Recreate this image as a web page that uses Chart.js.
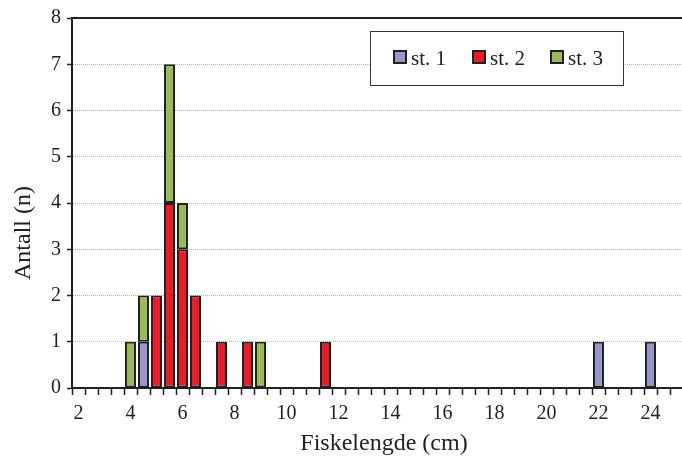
<!DOCTYPE html>
<html>
<head>
<meta charset="utf-8">
<script src="https://cdn.jsdelivr.net/npm/chart.js@4.4.0/dist/chart.umd.min.js"></script>
<style>
  html, body { margin: 0; padding: 0; background: #fff; overflow: hidden; }
  #wrap { width: 682px; height: 457px; overflow: hidden; }
</style>
</head>
<body>
<div id="wrap"><canvas id="lengthChart" width="690" height="457"></canvas></div>
<script>
// Fish length classes, 2 to 25 cm in 0.5 cm steps
const lengths = ['2', '2.5', '3', '3.5', '4', '4.5', '5', '5.5', '6', '6.5', '7', '7.5',
    '8', '8.5', '9', '9.5', '10', '10.5', '11', '11.5', '12', '12.5', '13', '13.5',
    '14', '14.5', '15', '15.5', '16', '16.5', '17', '17.5', '18', '18.5', '19', '19.5',
    '20', '20.5', '21', '21.5', '22', '22.5', '23', '23.5', '24', '24.5', '25'];

const st1 = [0, 0, 0, 0, 0, 1, 0, 0, 0, 0, 0, 0,
    0, 0, 0, 0, 0, 0, 0, 0, 0, 0, 0, 0,
    0, 0, 0, 0, 0, 0, 0, 0, 0, 0, 0, 0,
    0, 0, 0, 0, 1, 0, 0, 0, 1, 0, 0];
const st2 = [0, 0, 0, 0, 0, 0, 2, 4, 3, 2, 0, 1,
    0, 1, 0, 0, 0, 0, 0, 1, 0, 0, 0, 0,
    0, 0, 0, 0, 0, 0, 0, 0, 0, 0, 0, 0,
    0, 0, 0, 0, 0, 0, 0, 0, 0, 0, 0];
const st3 = [0, 0, 0, 0, 1, 1, 0, 3, 1, 0, 0, 0,
    0, 0, 1, 0, 0, 0, 0, 0, 0, 0, 0, 0,
    0, 0, 0, 0, 0, 0, 0, 0, 0, 0, 0, 0,
    0, 0, 0, 0, 0, 0, 0, 0, 0, 0, 0];

const yTicks = [0, 1, 2, 3, 4, 5, 6, 7, 8];
const xLabelEvery = 4;
const xTitle = 'Fiskelengde (cm)';
const yTitle = 'Antall (n)';

const serif = "'Liberation Serif', 'DejaVu Serif', serif";
const ink = '#222';

// Top frame line, axis titles (placed as in the original) and legend box
const framePlugin = {
    id: 'frame',
    afterDraw(chart) {
        const { ctx, chartArea } = chart;
        ctx.save();
        ctx.strokeStyle = ink;
        ctx.lineWidth = 2;
        ctx.beginPath();
        ctx.moveTo(chartArea.left - 1, chartArea.top);
        ctx.lineTo(chartArea.right + 10, chartArea.top);
        ctx.stroke();

        ctx.font = '24px ' + serif;
        ctx.fillStyle = ink;
        ctx.textAlign = 'center';
        ctx.textBaseline = 'middle';
        ctx.fillText(xTitle, 384, 444);

        ctx.save();
        ctx.translate(24, 233);
        ctx.rotate(-Math.PI / 2);
        ctx.fillText(yTitle, 0, 0);
        ctx.restore();

        // legend
        ctx.textAlign = 'left';
        ctx.fillStyle = '#fff';
        ctx.fillRect(370, 31, 253, 54);
        ctx.lineWidth = 1;
        ctx.strokeStyle = '#333';
        ctx.strokeRect(370.5, 31.5, 253, 54);
        const xs = [394, 473, 551];
        ctx.font = '21px ' + serif;
        ctx.textBaseline = 'alphabetic';
        chart.data.datasets.forEach((ds, i) => {
            ctx.fillStyle = ds.backgroundColor;
            ctx.fillRect(xs[i], 51, 12, 12);
            ctx.lineWidth = 2;
            ctx.strokeStyle = ink;
            ctx.strokeRect(xs[i], 51, 12, 12);
            ctx.fillStyle = ink;
            ctx.fillText(ds.label, xs[i] + 17, 65);
        });
        ctx.restore();
    }
};

const ctx = document.getElementById('lengthChart').getContext('2d');
new Chart(ctx, {
    type: 'bar',
    data: {
        labels: lengths,
        datasets: [
            { label: 'st. 1', data: st1, backgroundColor: '#9797CA' },
            { label: 'st. 2', data: st2, backgroundColor: '#ED1C24' },
            { label: 'st. 3', data: st3, backgroundColor: '#9BBB59' }
        ].map(ds => Object.assign(ds, {
            borderColor: ink,
            borderWidth: 2,
            borderSkipped: false,
            barPercentage: 0.85,
            categoryPercentage: 1
        }))
    },
    options: {
        responsive: false,
        animation: false,
        layout: { padding: { top: 8, left: 45, right: 7, bottom: 24 } },
        plugins: {
            legend: { display: false },
            tooltip: { enabled: false }
        },
        scales: {
            x: {
                stacked: true,
                offset: true,
                grid: {
                    offset: true,
                    drawOnChartArea: false,
                    drawTicks: true,
                    tickLength: 7,
                    tickColor: ink,
                    tickWidth: 1.5
                },
                border: { color: ink, width: 2 },
                ticks: {
                    autoSkip: false,
                    maxRotation: 0,
                    padding: 7,
                    color: ink,
                    font: { family: serif, size: 20 },
                    callback: (v, i) => (i % xLabelEvery === 0 ? lengths[i] : '')
                }
            },
            y: {
                stacked: true,
                min: yTicks[0],
                max: yTicks[yTicks.length - 1],
                grid: {
                    color: '#b5b5b5',
                    lineWidth: 1,
                    tickLength: 5,
                    tickColor: ink,
                    tickWidth: 1.5
                },
                border: { color: ink, width: 2, dash: [1, 1] },
                ticks: {
                    stepSize: 1,
                    padding: 6,
                    color: ink,
                    font: { family: serif, size: 20 }
                }
            }
        }
    },
    plugins: [framePlugin]
});
</script>
</body>
</html>
